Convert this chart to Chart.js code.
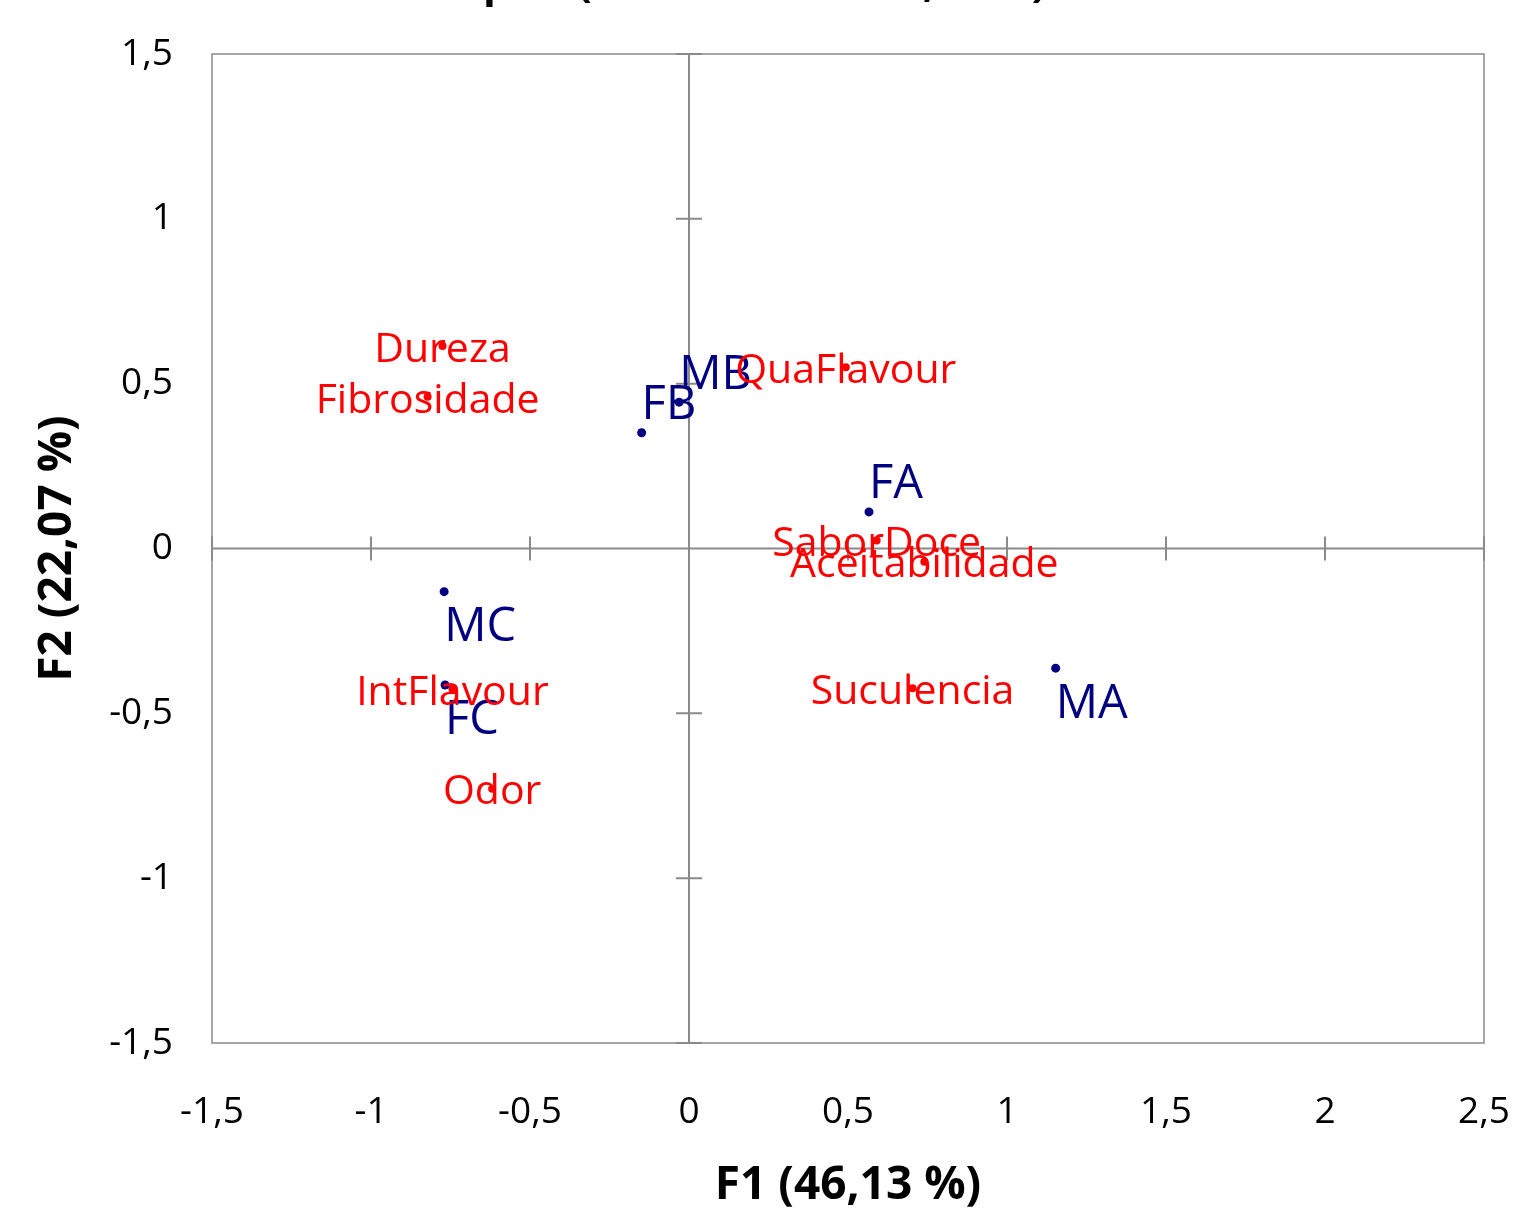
<!DOCTYPE html>
<html lang="pt">
<head>
  <meta charset="UTF-8">
  <title>Biplot (eixos F1 e F2: 68,20 %)</title>
  <script src="https://cdn.jsdelivr.net/npm/chart.js"></script>
  <style>
    html, body { margin: 0; padding: 0; background: #fff; }
    #biplot { display: block; }
  </style>
</head>
<body>
  <canvas id="biplot" width="1516" height="1209"></canvas>

  <script>
    // observations (blue)
    const obsLabels = ['FB', 'MB', 'FA', 'MC', 'FC', 'MA'];
    const obsF1     = [-0.149, -0.031, 0.566, -0.770, -0.767, 1.153];
    const obsF2     = [0.351, 0.444, 0.111, -0.131, -0.414, -0.363];

    // variables (red)
    const varLabels = ['Dureza', 'Fibrosidade', 'QuaFlavour', 'SaborDoce', 'Aceitabilidade',
                       'Suculencia', 'IntFlavour', 'Odor'];
    const varF1     = [-0.775, -0.822, 0.493, 0.590, 0.740, 0.703, -0.744, -0.619];
    const varF2     = [0.614, 0.460, 0.550, 0.024, -0.040, -0.424, -0.426, -0.729];

    const chartTitle = 'Biplot (eixos F1 e F2: 68,20 %)';
    const xTitle = 'F1 (46,13 %)';
    const yTitle = 'F2 (22,07 %)';

    const BLUE = '#000080';
    const RED  = '#ff0000';
    const GRAY = '#8a8a8a';
    const FONT = "'Open Sans', 'DejaVu Sans', sans-serif";

    const toPoints = (xs, ys) => xs.map((x, i) => ({ x: x, y: ys[i] }));
    const fmt = v => String(v).replace('.', ',');

    // frame, axes through zero, tick marks
    const axesPlugin = {
      id: 'axesPlugin',
      beforeDatasetsDraw(chart) {
        const { ctx, chartArea: a, scales: { x, y } } = chart;
        const x0 = x.getPixelForValue(0);
        const y0 = y.getPixelForValue(0);
        ctx.save();
        ctx.strokeStyle = GRAY;
        ctx.lineWidth = 1.5;
        ctx.strokeRect(a.left, a.top, a.right - a.left, a.bottom - a.top);
        ctx.lineWidth = 2;
        ctx.beginPath();
        ctx.moveTo(x0, a.top); ctx.lineTo(x0, a.bottom);
        ctx.moveTo(a.left, y0); ctx.lineTo(a.right, y0);
        x.ticks.forEach(t => {
          const px = x.getPixelForValue(t.value);
          ctx.moveTo(px, y0 - 12); ctx.lineTo(px, y0 + 12);
        });
        y.ticks.forEach(t => {
          const py = y.getPixelForValue(t.value);
          ctx.moveTo(x0 - 13, py); ctx.lineTo(x0 + 13, py);
        });
        ctx.stroke();
        ctx.restore();
      }
    };

    // point labels
    const labelPlugin = {
      id: 'labelPlugin',
      afterDatasetsDraw(chart) {
        const ctx = chart.ctx;
        ctx.save();
        // observations: above the point when F2 > 0, below otherwise
        chart.getDatasetMeta(0).data.forEach((pt, i) => {
          ctx.font = '47px ' + FONT;
          ctx.fillStyle = BLUE;
          ctx.textAlign = 'left';
          ctx.textBaseline = 'middle';
          const dy = obsF2[i] >= 0 ? -27 : 36;
          ctx.fillText(obsLabels[i], pt.x, pt.y + dy);
        });
        // variables: centred on the point
        chart.getDatasetMeta(1).data.forEach((pt, i) => {
          ctx.font = '41px ' + FONT;
          ctx.fillStyle = RED;
          ctx.textAlign = 'center';
          ctx.textBaseline = 'middle';
          ctx.fillText(varLabels[i], pt.x, pt.y + 4);
        });
        ctx.restore();
      }
    };

    // chart title, cut off at the top edge like the original
    const titlePlugin = {
      id: 'titlePlugin',
      afterDraw(chart) {
        const ctx = chart.ctx;
        ctx.save();
        ctx.font = 'bold 42px ' + FONT;
        ctx.fillStyle = '#000';
        ctx.textAlign = 'center';
        ctx.textBaseline = 'alphabetic';
        ctx.fillText(chartTitle, 744, -3);
        ctx.restore();
      }
    };

    const noOverflow = s => {
      s.paddingTop = 0; s.paddingBottom = 0;
      s.paddingLeft = 0; s.paddingRight = 0;
    };

    new Chart(document.getElementById('biplot').getContext('2d'), {
      type: 'scatter',
      data: {
        datasets: [
          {
            label: 'Observações',
            data: toPoints(obsF1, obsF2),
            backgroundColor: BLUE,
            borderColor: BLUE,
            pointRadius: 4.5,
            borderWidth: 0
          },
          {
            label: 'Variáveis',
            data: toPoints(varF1, varF2),
            backgroundColor: RED,
            borderColor: RED,
            pointRadius: 4,
            borderWidth: 0
          }
        ]
      },
      options: {
        responsive: false,
        devicePixelRatio: 1,
        animation: false,
        layout: { padding: { top: 54, right: 32, bottom: 0, left: 0 } },
        plugins: {
          legend: { display: false },
          tooltip: { enabled: false }
        },
        scales: {
          x: {
            type: 'linear',
            min: -1.5, max: 2.5,
            grid: { display: false },
            border: { display: false },
            ticks: {
              stepSize: 0.5,
              padding: 39,
              color: '#000',
              maxRotation: 0,
              font: { family: FONT, size: 37 },
              callback: v => fmt(v)
            },
            title: {
              display: true,
              text: xTitle,
              color: '#000',
              padding: 0,
              font: { family: FONT, size: 46, weight: 'bold', lineHeight: 1 }
            },
            afterFit: s => { s.height = 166; noOverflow(s); }
          },
          y: {
            type: 'linear',
            min: -1.5, max: 1.5,
            grid: { display: false },
            border: { display: false },
            ticks: {
              stepSize: 0.5,
              padding: 31,
              color: '#000',
              font: { family: FONT, size: 37 },
              callback: v => fmt(v)
            },
            title: {
              display: true,
              text: yTitle,
              color: '#000',
              padding: { top: 35, bottom: 0 },
              font: { family: FONT, size: 46, weight: 'bold', lineHeight: 1 }
            },
            afterFit: s => { s.width = 212; noOverflow(s); }
          }
        }
      },
      plugins: [axesPlugin, labelPlugin, titlePlugin]
    });
  </script>
</body>
</html>
